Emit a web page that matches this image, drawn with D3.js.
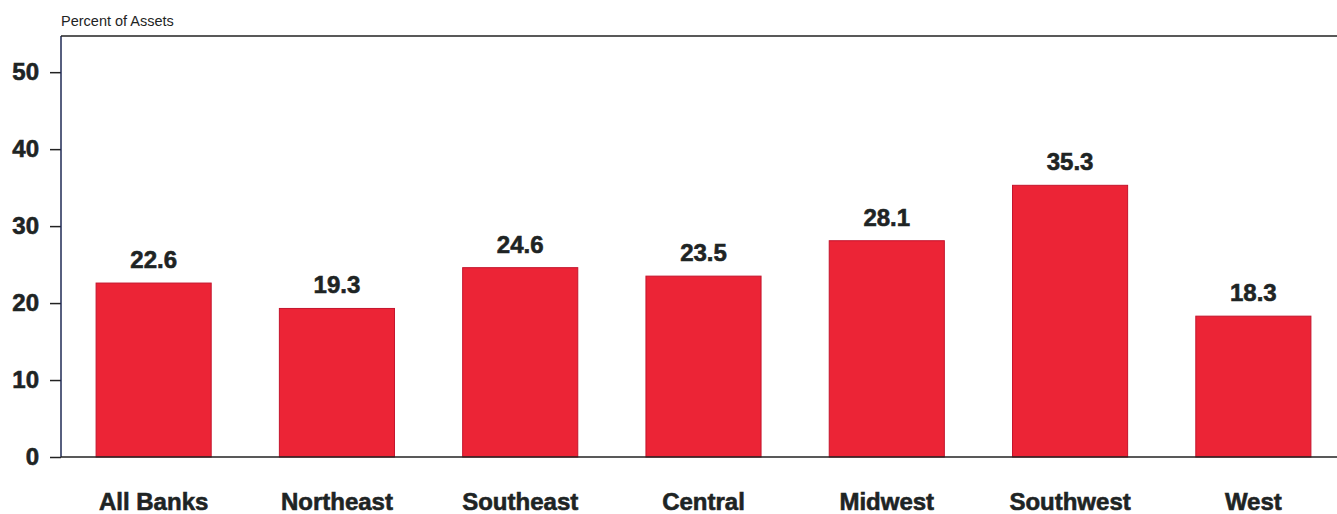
<!DOCTYPE html>
<html>
<head>
<meta charset="utf-8">
<script src="https://cdn.jsdelivr.net/npm/d3@7"></script>
<style>
  body { margin: 0; background: #fff; }
  svg { display: block; font-family: "Liberation Sans", Arial, sans-serif; }
</style>
</head>
<body>
<div id="vis"></div>
<script>
// chart data
const REGIONS = ["All Banks", "Northeast", "Southeast", "Central", "Midwest", "Southwest", "West"];
const PERCENTS = [22.6, 19.3, 24.6, 23.5, 28.1, 35.3, 18.3];
const Y_TICKS = [0, 10, 20, 30, 40, 50];

const FRAME_WIDTH = 1337;
const FRAME_HEIGHT = 514;
const PLOT = {left: 61, top: 36, bottom: 457, right: 1345};
const TEXT_COLOR = "#1e2424";

const FRAME = d3.select("#vis")
  .append("svg")
  .attr("width", FRAME_WIDTH)
  .attr("height", FRAME_HEIGHT);

const X_SCALE = d3.scaleBand()
  .domain(REGIONS)
  .range([PLOT.left + 1, PLOT.right])
  .paddingInner(0.372)
  .paddingOuter(0.186);

const Y_SCALE = d3.scaleLinear()
  .domain([0, 54.7])
  .range([PLOT.bottom, PLOT.top]);

// axis title
FRAME.append("text")
  .attr("x", PLOT.left)
  .attr("y", 26)
  .attr("font-size", "14.5px")
  .attr("fill", TEXT_COLOR)
  .text("Percent of Assets");

// bars
FRAME.selectAll(".bar")
  .data(PERCENTS)
  .enter()
  .append("rect")
  .attr("class", "bar")
  .attr("x", (d, i) => X_SCALE(REGIONS[i]))
  .attr("y", d => Y_SCALE(d))
  .attr("width", X_SCALE.bandwidth())
  .attr("height", d => Y_SCALE(0) - Y_SCALE(d))
  .attr("fill", "#ec2436")
  .attr("stroke", "#c4142c")
  .attr("stroke-width", 1);

// value labels
FRAME.selectAll(".val")
  .data(PERCENTS)
  .enter()
  .append("text")
  .attr("class", "val")
  .attr("x", (d, i) => X_SCALE(REGIONS[i]) + X_SCALE.bandwidth() / 2)
  .attr("y", d => Y_SCALE(d) - 15)
  .attr("text-anchor", "middle")
  .attr("font-size", "24px")
  .attr("font-weight", "bold")
  .attr("fill", TEXT_COLOR)
  .attr("stroke", TEXT_COLOR)
  .attr("stroke-width", 0.6)
  .text(d => d.toFixed(1));

// y axis
const yAxis = FRAME.append("g")
  .attr("transform", "translate(" + PLOT.left + ",0)")
  .call(d3.axisLeft(Y_SCALE).tickValues(Y_TICKS).tickSize(11).tickPadding(11));
yAxis.select(".domain").remove();
yAxis.selectAll("line").attr("stroke", "#222").attr("stroke-width", 1.5);
yAxis.selectAll("text")
  .attr("font-size", "24px")
  .attr("font-weight", "bold")
  .attr("fill", TEXT_COLOR)
  .attr("stroke", TEXT_COLOR)
  .attr("stroke-width", 0.6)
  .attr("font-family", "Liberation Sans, Arial, sans-serif");

// frame lines: left, top, bottom
FRAME.append("line")
  .attr("x1", PLOT.left).attr("x2", PLOT.left)
  .attr("y1", PLOT.top).attr("y2", PLOT.bottom)
  .attr("stroke", "#1f2a55").attr("stroke-width", 1.5);
FRAME.append("line")
  .attr("x1", PLOT.left).attr("x2", FRAME_WIDTH)
  .attr("y1", PLOT.top).attr("y2", PLOT.top)
  .attr("stroke", "#222").attr("stroke-width", 1.5);
FRAME.append("line")
  .attr("x1", PLOT.left).attr("x2", FRAME_WIDTH)
  .attr("y1", PLOT.bottom).attr("y2", PLOT.bottom)
  .attr("stroke", "#222").attr("stroke-width", 1.5);

// category labels
FRAME.selectAll(".cat")
  .data(REGIONS)
  .enter()
  .append("text")
  .attr("class", "cat")
  .attr("x", d => X_SCALE(d) + X_SCALE.bandwidth() / 2)
  .attr("y", 510)
  .attr("text-anchor", "middle")
  .attr("font-size", "24px")
  .attr("font-weight", "bold")
  .attr("fill", TEXT_COLOR)
  .attr("stroke", TEXT_COLOR)
  .attr("stroke-width", 0.6)
  .text(d => d);
</script>
</body>
</html>
